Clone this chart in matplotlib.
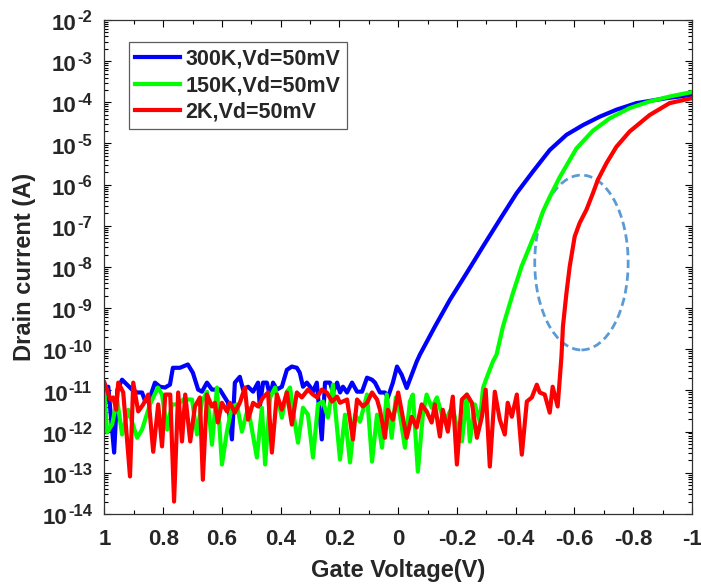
import numpy as np
import matplotlib
matplotlib.use("Agg")
import matplotlib.pyplot as plt
from matplotlib.patches import Ellipse
from matplotlib.offsetbox import TextArea, HPacker, VPacker, DrawingArea, AnnotationBbox
from matplotlib.ticker import MultipleLocator, FixedLocator, LogLocator, FuncFormatter, NullFormatter

plt.rcParams['font.family'] = ['Liberation Sans', 'DejaVu Sans']
plt.rcParams['font.weight'] = 'bold'
plt.rcParams['axes.unicode_minus'] = False

# gate voltage (V) and log10 of drain current (A)
vg_300k = [1.0, 0.987, 0.967, 0.956, 0.940, 0.923, 0.906, 0.889, 0.872, 0.861,
           0.845, 0.828, 0.811, 0.794, 0.777, 0.767, 0.743, 0.716, 0.699, 0.681,
           0.668, 0.651, 0.634, 0.607, 0.579, 0.566, 0.556, 0.539, 0.528, 0.511,
           0.494, 0.477, 0.471, 0.460, 0.447, 0.436, 0.426, 0.413, 0.396, 0.379,
           0.362, 0.345, 0.335, 0.324, 0.311, 0.300, 0.290, 0.277, 0.260, 0.249,
           0.232, 0.222, 0.208, 0.198, 0.188, 0.174, 0.157, 0.140, 0.123, 0.106,
           0.089, 0.079, 0.062, 0.045, 0.035, 0.018, 0.004, -0.012, -0.029, -0.046,
           -0.063, -0.074, -0.125, -0.176, -0.233, -0.289, -0.346, -0.403, -0.459, -0.516,
           -0.573, -0.630, -0.686, -0.743, -0.811, -0.913, -1.0]
log_300k = [-11.39, -10.91, -12.51, -10.98, -10.74, -10.86, -10.98, -11.05, -11.05, -11.27,
            -11.17, -10.81, -10.91, -10.93, -10.86, -10.45, -10.45, -10.37, -10.57, -10.98,
            -11.03, -10.81, -10.98, -10.98, -11.30, -12.19, -10.81, -10.67, -10.98, -10.91,
            -11.03, -10.81, -11.39, -10.81, -10.81, -11.15, -10.81, -10.98, -10.91, -10.50,
            -10.42, -10.45, -10.57, -10.91, -10.81, -10.91, -11.03, -10.81, -12.19, -10.81,
            -10.81, -11.05, -10.81, -11.05, -10.91, -11.05, -10.81, -11.03, -11.03, -10.69,
            -10.74, -10.81, -11.05, -11.05, -11.17, -10.81, -10.42, -10.62, -10.94, -10.62,
            -10.30, -10.13, -9.45, -8.80, -8.15, -7.50, -6.85, -6.21, -5.68, -5.16,
            -4.79, -4.55, -4.35, -4.18, -4.02, -3.90, -3.82]

vg_150k = [1.0, 0.991, 0.974, 0.957, 0.940, 0.919, 0.889, 0.872, 0.845, 0.818,
           0.804, 0.787, 0.770, 0.749, 0.732, 0.702, 0.685, 0.668, 0.651, 0.634,
           0.617, 0.600, 0.583, 0.566, 0.549, 0.532, 0.511, 0.481, 0.464, 0.453,
           0.436, 0.419, 0.396, 0.379, 0.368, 0.358, 0.341, 0.324, 0.307, 0.290,
           0.273, 0.256, 0.239, 0.222, 0.198, 0.181, 0.164, 0.147, 0.130, 0.106,
           0.089, 0.072, 0.055, 0.039, 0.022, 0.008, -0.006, -0.023, -0.040, -0.050,
           -0.067, -0.084, -0.097, -0.114, -0.132, -0.149, -0.159, -0.176, -0.186, -0.200,
           -0.217, -0.234, -0.244, -0.261, -0.278, -0.289, -0.301, -0.323, -0.335, -0.357,
           -0.391, -0.420, -0.448, -0.471, -0.493, -0.516, -0.550, -0.607, -0.663, -0.720,
           -0.788, -0.856, -0.924, -1.0]
log_150k = [-11.03, -12.02, -11.83, -11.22, -12.07, -11.47, -12.15, -11.95, -11.34, -10.93,
            -11.10, -11.95, -11.34, -11.34, -11.22, -11.22, -12.07, -11.27, -11.03, -12.32,
            -10.93, -12.80, -12.00, -11.39, -11.34, -12.00, -11.42, -12.63, -11.42, -12.80,
            -11.17, -10.93, -11.66, -11.03, -10.93, -11.51, -12.27, -11.42, -11.59, -12.63,
            -11.34, -11.27, -11.66, -10.86, -12.68, -11.59, -12.75, -11.59, -11.76, -11.10,
            -12.73, -11.59, -12.39, -11.10, -12.15, -11.17, -11.59, -12.39, -11.27, -11.10,
            -12.97, -11.59, -11.10, -11.42, -11.17, -11.59, -11.76, -11.51, -11.42, -11.90,
            -12.24, -11.10, -12.24, -11.34, -11.76, -10.94, -10.70, -10.29, -10.13, -9.44,
            -8.63, -7.99, -7.50, -7.10, -6.65, -6.30, -5.82, -5.12, -4.69, -4.39,
            -4.14, -3.98, -3.86, -3.75]

vg_2k = [1.0, 0.980, 0.970, 0.960, 0.953, 0.936, 0.913, 0.902, 0.885, 0.868,
         0.851, 0.834, 0.817, 0.804, 0.793, 0.776, 0.763, 0.749, 0.736, 0.725,
         0.708, 0.692, 0.675, 0.665, 0.651, 0.634, 0.624, 0.614, 0.600, 0.583,
         0.573, 0.556, 0.539, 0.522, 0.511, 0.494, 0.477, 0.460, 0.443, 0.430,
         0.413, 0.396, 0.379, 0.362, 0.345, 0.328, 0.307, 0.290, 0.276, 0.260,
         0.243, 0.225, 0.208, 0.198, 0.174, 0.154, 0.140, 0.120, 0.106, 0.089,
         0.072, 0.062, 0.045, 0.035, 0.018, 0.0, -0.029, -0.046, -0.063, -0.080,
         -0.097, -0.114, -0.125, -0.142, -0.152, -0.169, -0.186, -0.200, -0.217, -0.234,
         -0.251, -0.268, -0.285, -0.298, -0.312, -0.329, -0.346, -0.363, -0.373, -0.387,
         -0.404, -0.421, -0.438, -0.455, -0.472, -0.482, -0.499, -0.516, -0.526, -0.543,
         -0.556, -0.561, -0.573, -0.584, -0.601, -0.618, -0.641, -0.663, -0.680, -0.709,
         -0.743, -0.788, -0.856, -0.924, -1.0]
log_2k = [-10.81, -11.22, -11.17, -11.47, -10.81, -11.05, -13.09, -10.81, -11.51, -11.34,
          -11.10, -12.49, -11.34, -12.36, -11.10, -11.10, -13.70, -11.05, -12.24, -11.10,
          -12.24, -11.39, -11.17, -13.17, -11.10, -11.39, -11.30, -11.78, -11.30, -11.51,
          -11.30, -11.54, -11.30, -10.93, -11.71, -11.30, -11.39, -11.17, -11.05, -12.51,
          -11.10, -11.47, -11.05, -11.83, -11.05, -11.17, -10.98, -11.10, -11.17, -10.98,
          -11.05, -11.27, -11.15, -11.30, -11.22, -12.19, -11.22, -11.39, -11.30, -11.05,
          -11.22, -11.47, -12.15, -11.47, -11.71, -11.05, -12.15, -11.64, -11.90, -11.34,
          -11.51, -11.78, -11.34, -12.12, -11.47, -12.00, -11.15, -12.80, -11.22, -11.10,
          -11.30, -12.15, -11.64, -10.98, -12.85, -11.03, -11.71, -12.07, -11.30, -11.64,
          -11.10, -12.56, -11.27, -11.17, -10.86, -11.05, -11.10, -11.54, -10.91, -11.39,
          -10.17, -9.44, -8.63, -7.99, -7.26, -6.93, -6.61, -6.21, -5.88, -5.48,
          -5.08, -4.71, -4.31, -4.02, -3.90]

labels = ['300K,Vd=50mV', '150K,Vd=50mV', '2K,Vd=50mV']
colors = ['#0000FF', '#00FF00', '#FF0000']
decades = list(range(-14, -1))
txt_color = '#262626'

fig = plt.figure(figsize=(7.01, 5.88), dpi=100)
ax = fig.add_axes([0.149, 0.126, 0.838, 0.840])

for vg, lg, c, lab in zip([vg_300k, vg_150k, vg_2k], [log_300k, log_150k, log_2k], colors, labels):
    ax.plot(vg, 10.0 ** np.array(lg), color=c, lw=3.0, label=lab)

ax.set_yscale('log')
ax.set_ylim(1e-14, 1e-2)
ax.set_xlim(1, -1)

ax.xaxis.set_major_locator(MultipleLocator(0.2))
ax.xaxis.set_minor_locator(MultipleLocator(0.1))
ax.xaxis.set_major_formatter(FuncFormatter(lambda v, p: '%g' % (round(v, 1) + 0.0)))
ax.yaxis.set_major_locator(FixedLocator([10.0 ** k for k in decades]))
ax.yaxis.set_minor_locator(LogLocator(base=10, subs=np.arange(2, 10), numticks=100))
ax.yaxis.set_major_formatter(NullFormatter())
ax.yaxis.set_minor_formatter(NullFormatter())

ax.tick_params(which='both', direction='in', top=True, right=True, width=0.8,
               labelsize=16, labelcolor=txt_color)
ax.tick_params(which='major', length=5)
ax.tick_params(which='minor', length=3)
ax.tick_params(axis='x', which='major', pad=11)
for s in ax.spines.values():
    s.set_linewidth(0.9)
    s.set_color('#333333')

# y tick labels: "10" with a larger raised exponent
for k in decades:
    base = TextArea('10', textprops=dict(fontsize=16, fontweight='bold', color=txt_color))
    sup = TextArea('%d' % k, textprops=dict(fontsize=12, fontweight='bold', color=txt_color))
    sup_box = VPacker(children=[sup, DrawingArea(0, 7)], pad=0, sep=0)
    lab = HPacker(children=[base, sup_box], align='bottom', pad=0, sep=0.5)
    ab = AnnotationBbox(lab, (0, 10.0 ** k), xycoords=('axes fraction', 'data'),
                        xybox=(-9, -2), boxcoords='offset points', box_alignment=(1, 0.5),
                        frameon=False, pad=0, annotation_clip=False)
    ax.add_artist(ab)

ax.set_xlabel('Gate Voltage(V)', fontsize=17, fontweight='bold', color=txt_color)
ax.set_ylabel('Drain current (A)', fontsize=17, fontweight='bold', color=txt_color)
ax.xaxis.set_label_coords(0.5, -0.092)
ax.yaxis.set_label_coords(-0.117, 0.5)

leg = ax.legend(loc='upper left', bbox_to_anchor=(0.041, 0.955), fontsize=15.5,
                fancybox=False, edgecolor='#333333', handlelength=2.1,
                handletextpad=0.25, labelspacing=0.26, borderpad=0.3, borderaxespad=0)
leg.get_frame().set_linewidth(0.9)
for t in leg.get_texts():
    t.set_fontweight('bold')
    t.set_color(txt_color)

# dashed ring around the 2K steep-slope region
ax.add_patch(Ellipse((0.812, 0.509), 0.159, 0.354, transform=ax.transAxes,
                     fill=False, edgecolor='#5B9BD5', lw=2, ls=(0, (3, 1.6))))

fig.savefig('out.png', dpi=100)
